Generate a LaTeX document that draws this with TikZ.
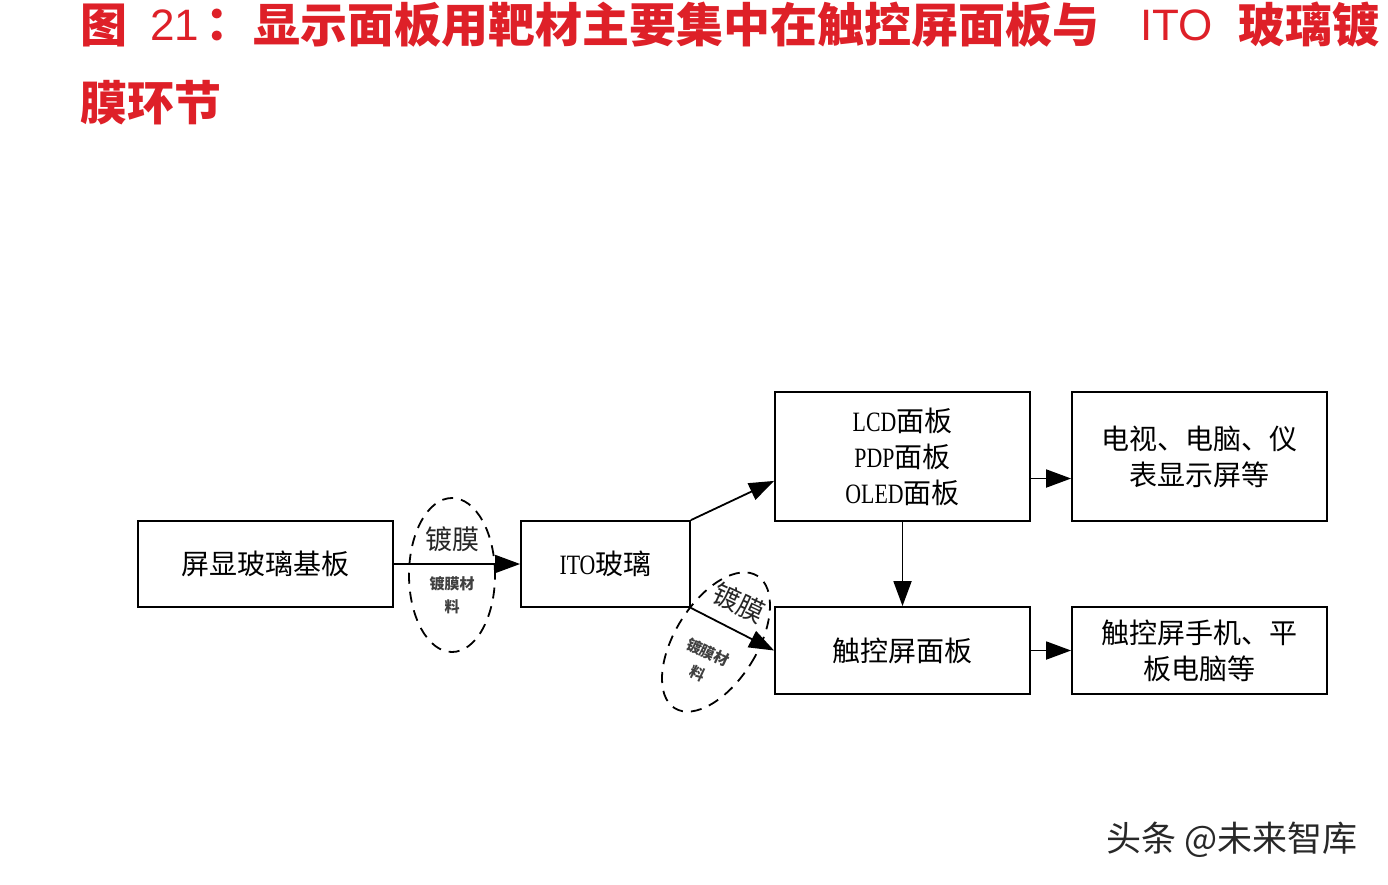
\documentclass[tikz,border=0pt]{standalone}
\usepackage{fontspec}
\setmainfont{Liberation Serif}
\newfontfamily\cjk{Noto Sans CJK SC}
\newfontfamily\latc[FakeStretch=0.78]{Liberation Serif}
\newfontfamily\ttlsans{Liberation Sans}
\usetikzlibrary{arrows.meta}
\definecolor{titlered}{RGB}{222,32,40}
\definecolor{wmgray}{RGB}{40,40,40}
\newcommand\lat[1]{{\latc #1}}
\begin{document}
\begin{tikzpicture}[x=1pt,y=1pt,
  box/.style={draw, line width=1.8pt, inner sep=0pt, align=center,
    font=\cjk\fontsize{28}{36}\selectfont},
  arr/.style={line width=1.8pt, -{Triangle[length=25pt,width=18pt]}},
  ell/.style={draw, line width=1.8pt, dash pattern=on 11pt off 8pt},
  ttl/.style={anchor=west, inner sep=0pt, text=titlered,
    font=\cjk\bfseries\fontsize{47}{48}\selectfont},
  ttll/.style={anchor=west, inner sep=0pt, text=titlered,
    font=\ttlsans\fontsize{44}{48}\selectfont},
  big/.style={inner sep=0pt, font=\cjk\fontsize{27}{30}\selectfont, text=black!85},
  small/.style={inner sep=0pt, align=center, font=\cjk\bfseries\fontsize{15}{23}\selectfont, text=black!75}]
\useasboundingbox (0,0) rectangle (1388,-884);
\fill[white] (0,0) rectangle (1388,-884);
% title
\node[ttl] (t1) at (80,-25) {图};
\node[ttll] (t2) at (150,-25) {21};
\node[ttl] (t2b) at (205,-25) {：};
\node[ttl] (t3) at (253,-25) {显示面板用靶材主要集中在触控屏面板与};
\node[ttll] (t4) at (1140,-25) {ITO};
\node[ttl] (t5) at (1238,-25) {玻璃镀};
\node[ttl] (t6) at (80,-103) {膜环节};
% boxes
\node[box, minimum width=255pt, minimum height=86pt] (a) at (265.5,-564) {屏显玻璃基板};
\node[box, minimum width=169pt, minimum height=86pt] (b) at (605.5,-564) {\lat{ITO}玻璃};
\node[box, minimum width=255pt, minimum height=129pt] (c) at (902.5,-456.5) {\lat{LCD}面板\\\lat{PDP}面板\\\lat{OLED}面板};
\node[box, minimum width=255pt, minimum height=129pt] (d) at (1199.5,-456.5) {电视、电脑、仪\\表显示屏等};
\node[box, minimum width=255pt, minimum height=87pt] (e) at (902.5,-650.5) {触控屏面板};
\node[box, minimum width=255pt, minimum height=87pt] (f) at (1199.5,-650.5) {触控屏手机、平\\板电脑等};
% connectors
\draw[arr] (a.east) -- (b.west);
\draw[arr] (b.north east) -- ([yshift=41pt]c.south west);
\draw[arr] (b.south east) -- (e.west);
\draw[arr] (c.south) -- (e.north);
\draw[arr] ([yshift=-22pt]c.east) -- ([yshift=-22pt]d.west);
\draw[arr] (e.east) -- (f.west);
% dashed ellipses
\draw[ell] (452,-575) ellipse [x radius=43, y radius=77];
\node[big] (m1) at (452,-539) {镀膜};
\node[small] (s1) at (452,-595) {镀膜材\\料};
\draw[ell, rotate around={-32:(716,-642)}] (716,-642) ellipse [x radius=41, y radius=78];
\node[big, rotate=-25] (m2) at (739,-603) {镀膜};
\node[small, rotate=-25] (s2) at (703,-663) {镀膜材\\料};
% watermark
\node[anchor=west, inner sep=0pt, text=wmgray, font=\cjk\fontsize{35}{38}\selectfont] (w) at (1106,-840) {头条 @未来智库};
\end{tikzpicture}
\end{document}
